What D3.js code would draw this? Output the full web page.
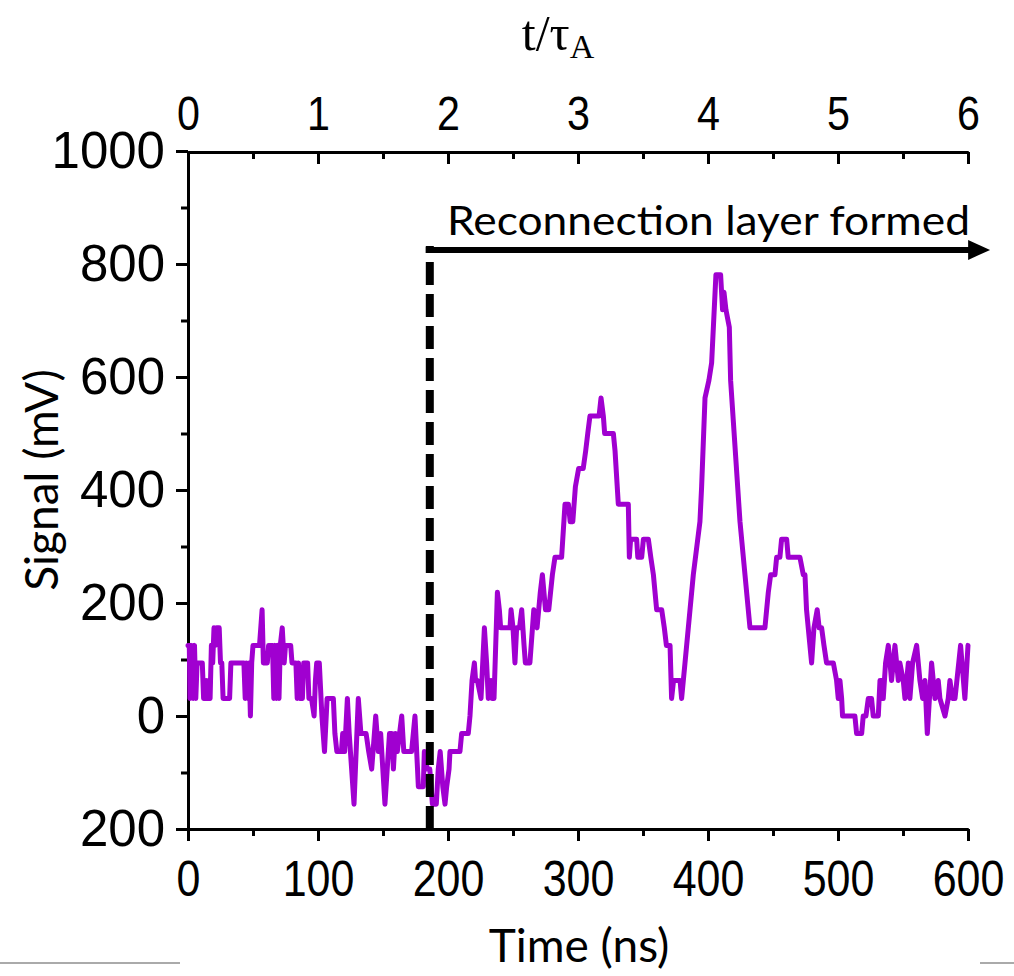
<!DOCTYPE html>
<html lang="en">
<head>
  <meta charset="UTF-8">
  <title>Signal vs time</title>
  <script src="https://d3js.org/d3.v7.min.js"></script>
  <style>
    body { margin: 0; background: #fff; }
  </style>
</head>
<body>
  <div id="root"></div>
  <script>
    // trace (ns, mV)
    const timeNs = [
      0,1,1.5,2.5,3.5,4,5,6,7,11,
      12,13,14,15,16,17,18,19,20,21,
      22,24,25,26,27,32,33,43,44,45,
      46,47,48,49,50,55,57,58,61,62,
      65,66,67,68,69,70,71,72.5,74,75,
      79,80,83,84,85,86,87,88,89,92,
      93,95,97,98,99,101,103,105,
      107,111.8,113,114.5,118,119,120.5,122.6,124,127.7,
      131,133,137,139,141.3,144.4,146.4,148.2,151.5,155,
      156.7,158,159.5,161,164.4,166,172,174.6,177.2,181,
      181.8,184,186,188,191,192.5,194,196,197.7,199,
      200.8,201.5,
      209.2,210.5,215.6,216.9,218.5,220.3,221.2,222.6,225.4,228,
      229.7,231,233.1,234,235.4,238,239.5,240.5,247.7,248.5,
      250,251.5,252.8,255,256.7,258.5,259.5,263,266,268.5,
      271,272.6,275,277.5,280.3,282.3,287.4,290,292.6,294,
      296,298,300.5,304,305.9,
      307.5,309.2,316.2,317.7,319.5,320.5,327.2,328.5,331,338.7,
      339.5,340.5,345.1,346,349,350.3,354.1,356,358,360.5,
      364.4,366.4,368,370.8,372,373.5,378.5,379.7,382.3,388.7,
      393.8,395.1,397.7,400.7,402.8,406.1,409.7,411.2,412.3,413.8,
      416.4,417.4,424.6,432.3,443.8,445.1,446.4,448.2,451.5,452.8,
      455.3,456.6,460.5,461.7,470.7,473.3,474.6,475.8,477.1,479.7,
      481.5,484,485.5,487.4,489.2,491.2,496.4,498.9,500.2,
      501.5,502.8,503.5,513,514.3,518.2,519.4,521.5,523.3,525.8,
      527.1,531,532.3,533.5,534.8,536.6,538.7,540,541.2,543.8,
      546.4,547.6,550.2,551.5,554.1,555.3,557.4,560.5,563,565.1,
      566.9,568.7,572,574.6,577.1,578.4,582.3,584.8,586.1,588,
      590,594.3,597.6,600
    ]
    const signalMv = [
      125,125,31,125,94,31,125,31,94,94,
      31,31,63,31,63,31,125,94,156,125,
      156,156,94,94,31,31,94,94,31,94,
      31,94,0,94,125,125,188,94,94,125,
      125,31,125,31,125,31,125,156,94,125,
      125,94,94,31,94,31,63,31,94,94,
      31,31,0,63,94,94,0,-63,
      31,31,-31,-63,-63,-31,-63,31,-31,-156,
      31,-31,-31,-63,-94,0,-63,-31,-156,-31,
      -31,-94,-31,-63,0,-63,-63,0,-125,-125,
      -63,-94,-94,-156,-156,-94,-63,-125,-156,-125,
      -94,-63,
      -63,-31,-31,0,63,94,63,63,31,156,
      94,31,63,31,31,219,188,156,156,188,
      156,94,156,156,188,125,94,94,188,156,
      219,250,188,188,250,281,281,375,375,344,
      344,406,438,438,469,
      500,531,531,563,531,500,500,469,375,375,
      281,313,313,281,281,313,313,281,250,188,
      188,156,125,125,31,63,63,31,94,250,
      344,406,563,594,625,781,781,719,750,719,
      688,594,344,156,156,188,219,250,250,281,
      281,313,313,281,281,250,250,188,156,94,
      156,188,156,156,125,94,94,63,31,
      63,31,0,0,-31,-31,0,0,31,31,
      0,0,63,63,31,94,125,94,63,125,
      63,94,63,31,94,31,94,125,63,31,
      63,-31,94,31,63,31,0,31,63,31,
      31,125,31,125
    ]

    const timeTicks = [0, 100, 200, 300, 400, 500, 600]
    const timeMinor = [50, 150, 250, 350, 450, 550]
    const tauTicks = [0, 1, 2, 3, 4, 5, 6]
    const tauMinor = [0.5, 1.5, 2.5, 3.5, 4.5, 5.5]
    const signalTicks = [-200, 0, 200, 400, 600, 800, 1000]
    const signalMinor = [-100, 100, 300, 500, 700, 900]

    // annotation
    const reconnectNs = 186
    const arrowEndNs = 617
    const arrowMv = 825
    const arrowLabel = 'Reconnection layer formed'

    const svg = d3.select('#root')
      .append('svg')
      .attr('width', 1014)
      .attr('height', 976)
      .style('background', '#fff')

    const x = d3.scaleLinear().domain([0, 600]).range([188, 968])
    const tau = d3.scaleLinear().domain([0, 6]).range([188, 968])
    const y = d3.scaleLinear().domain([-200, 1000]).range([829, 151])

    const tickFont = '"Liberation Sans", Arial, sans-serif'
    const titleFont = 'Lato, "Open Sans", sans-serif'

    function styleAxis(g, narrow, size) {
      g.select('.domain').attr('stroke', '#000').attr('stroke-width', 3)
      g.selectAll('.tick line').attr('stroke', '#000').attr('stroke-width', 3)
      g.selectAll('.tick text')
        .attr('fill', '#000')
        .style('font-family', tickFont)
        .style('font-size', (size || 48) + 'px')
      if (narrow) g.selectAll('.tick text').attr('transform', 'scale(0.86,1)')
    }

    // bottom axis
    svg.append('g')
      .attr('transform', 'translate(0,829)')
      .call(d3.axisBottom(x).tickValues(timeMinor).tickSize(7).tickSizeOuter(0).tickFormat(''))
      .call(g => styleAxis(g))
    svg.append('g')
      .attr('transform', 'translate(0,829)')
      .call(d3.axisBottom(x).tickValues(timeTicks).tickSize(12).tickSizeOuter(0).tickPadding(20)
        .tickFormat(d3.format('d')))
      .call(g => styleAxis(g, true, 50))

    // top axis, ticks pointing in
    svg.append('g')
      .attr('transform', 'translate(0,152)')
      .call(d3.axisTop(tau).tickValues(tauMinor).tickSize(-7).tickSizeOuter(0).tickFormat(''))
      .call(g => styleAxis(g))
    svg.append('g')
      .attr('transform', 'translate(0,152)')
      .call(d3.axisTop(tau).tickValues(tauTicks).tickSize(-12).tickSizeOuter(0).tickPadding(22)
        .tickFormat(d3.format('d')))
      .call(g => styleAxis(g, true, 48))

    // left axis
    svg.append('g')
      .attr('transform', 'translate(188,0)')
      .call(d3.axisLeft(y).tickValues(signalMinor).tickSize(7).tickSizeOuter(0).tickFormat(''))
      .call(g => styleAxis(g))
    svg.append('g')
      .attr('transform', 'translate(188,0)')
      .call(d3.axisLeft(y).tickValues(signalTicks).tickSize(12).tickSizeOuter(0).tickPadding(11)
        .tickFormat(d => String(Math.abs(d))))
      .call(g => styleAxis(g, false, 51))

    // signal trace
    const trace = d3.zip(timeNs, signalMv)
    const line = d3.line().x(d => x(d[0])).y(d => y(d[1]))
    svg.append('path')
      .datum(trace)
      .attr('d', line)
      .attr('fill', 'none')
      .attr('stroke', '#a000d0')
      .attr('stroke-width', 5)
      .attr('stroke-linejoin', 'round')
      .attr('stroke-linecap', 'round')

    // dashed marker + arrow
    const xr = x(reconnectNs)
    const ya = y(arrowMv)
    svg.append('line')
      .attr('x1', xr).attr('x2', xr)
      .attr('y1', y(-200)).attr('y2', ya - 4)
      .attr('stroke', '#000')
      .attr('stroke-width', 8)
      .attr('stroke-dasharray', '23,9')
    const tip = x(arrowEndNs)
    svg.append('line')
      .attr('x1', xr - 4).attr('x2', tip - 18)
      .attr('y1', ya).attr('y2', ya)
      .attr('stroke', '#000')
      .attr('stroke-width', 6)
    svg.append('path')
      .attr('d', `M${tip},${ya} L${tip - 22},${ya - 10} L${tip - 22},${ya + 10} Z`)
      .attr('fill', '#000')

    svg.append('text')
      .attr('x', 447).attr('y', 235)
      .attr('textLength', 523)
      .attr('lengthAdjust', 'spacingAndGlyphs')
      .style('font-family', titleFont)
      .style('font-size', '40px')
      .text(arrowLabel)

    // axis titles
    svg.append('text')
      .attr('x', 579).attr('y', 962)
      .attr('text-anchor', 'middle')
      .style('font-family', titleFont)
      .style('font-size', '46px')
      .text('Time (ns)')

    svg.append('text')
      .attr('transform', 'translate(58,480) rotate(-90)')
      .attr('text-anchor', 'middle')
      .style('font-family', titleFont)
      .style('font-size', '46px')
      .text('Signal (mV)')

    const tauTitle = svg.append('text')
      .attr('x', 558).attr('y', 50)
      .attr('text-anchor', 'middle')
      .style('font-family', '"Liberation Serif", "DejaVu Serif", serif')
      .style('font-size', '50px')
    tauTitle.append('tspan').text('t/τ')
    tauTitle.append('tspan').attr('dy', 8).style('font-size', '34px').text('A')

    // thin grey rules along the bottom edge
    svg.append('line').attr('x1', 0).attr('x2', 180).attr('y1', 963).attr('y2', 963)
      .attr('stroke', '#aaa').attr('stroke-width', 2)
    svg.append('line').attr('x1', 980).attr('x2', 1014).attr('y1', 963).attr('y2', 963)
      .attr('stroke', '#aaa').attr('stroke-width', 2)
  </script>
</body>
</html>
